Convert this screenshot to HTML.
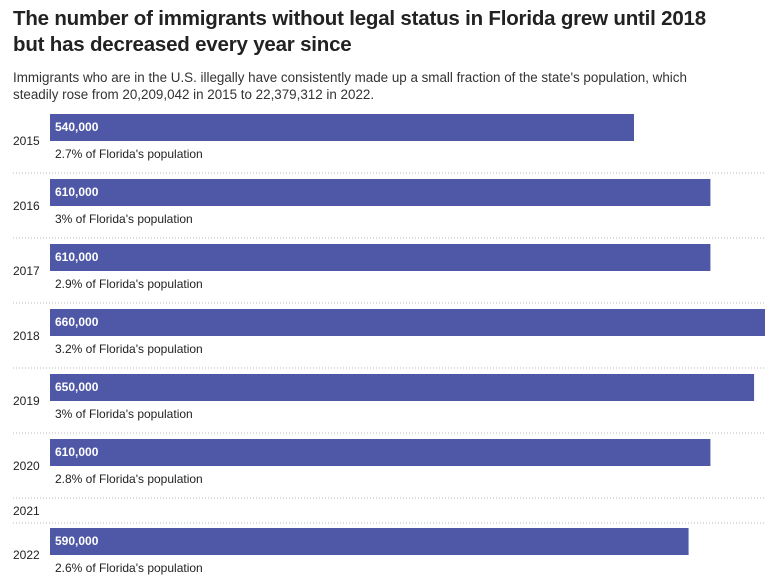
<!DOCTYPE html>
<html><head><meta charset="utf-8"><style>
body{margin:0;background:#fff;font-family:"Liberation Sans",Arial,sans-serif;}
#wrap{position:relative;width:777px;height:587px;overflow:hidden;}
h1{position:absolute;left:13px;top:6px;margin:0;font-size:20.5px;line-height:26px;font-weight:bold;color:#222;width:725px;letter-spacing:-0.2px}
p.sub{position:absolute;left:13px;top:69px;margin:0;font-size:13.4px;line-height:17px;color:#333;width:715px}
</style></head><body>
<div id="wrap">
<h1>The number of immigrants without legal status in Florida grew until 2018 but has decreased every year since</h1>
<p class="sub">Immigrants who are in the U.S. illegally have consistently made up a small fraction of the state's population, which steadily rose from 20,209,042 in 2015 to 22,379,312 in 2022.</p>
<svg id="chart" width="777" height="587" style="position:absolute;left:0;top:0"></svg>
</div>
<script>
const years=["2015","2016","2017","2018","2019","2020","2021","2022"];
const values=[540000,610000,610000,660000,650000,610000,null,590000];
const valueLabels=["540,000","610,000","610,000","660,000","650,000","610,000","","590,000"];
const shares=["2.7%","3%","2.9%","3.2%","3%","2.8%","","2.6%"];
const svg=document.getElementById('chart');
const NS='http://www.w3.org/2000/svg';
function x(v){return 44.5+v*131/120000;}
function mk(t,a,txt){const e=document.createElementNS(NS,t);for(const k in a)e.setAttribute(k,a[k]);if(txt!==undefined)e.textContent=txt;svg.appendChild(e);return e;}
let y=114;
years.forEach((yr,i)=>{
  if(values[i]===null){
    const t=mk('text',{x:13,y:y+11,'font-size':12,fill:'#222'},yr);
    
    
    const s=mk('line',{x1:13,x2:765,y1:y+19,y2:y+19,stroke:'#bbb','stroke-dasharray':'1,2'});
    
    
    y+=24;return;
  }
  const b=mk('rect',{x:50,y:y,width:x(values[i])-50,height:27,fill:'#4f58a6'});
  
  
  const v=mk('text',{x:55,y:y+17,'font-size':12,'font-weight':'bold',fill:'#fff'},valueLabels[i]);
  
  
  const t=mk('text',{x:13,y:y+31,'font-size':12,fill:'#222'},yr);
  
  
  const s2=mk('text',{x:55,y:y+44,'font-size':12,fill:'#222'},shares[i]+" of Florida's population");
  
  
  if(i<years.length-1){
    const s=mk('line',{x1:13,x2:765,y1:y+59,y2:y+59,stroke:'#bbb','stroke-dasharray':'1,2'});
    
    
  }
  y+=65;
});
</script>
</body></html>
